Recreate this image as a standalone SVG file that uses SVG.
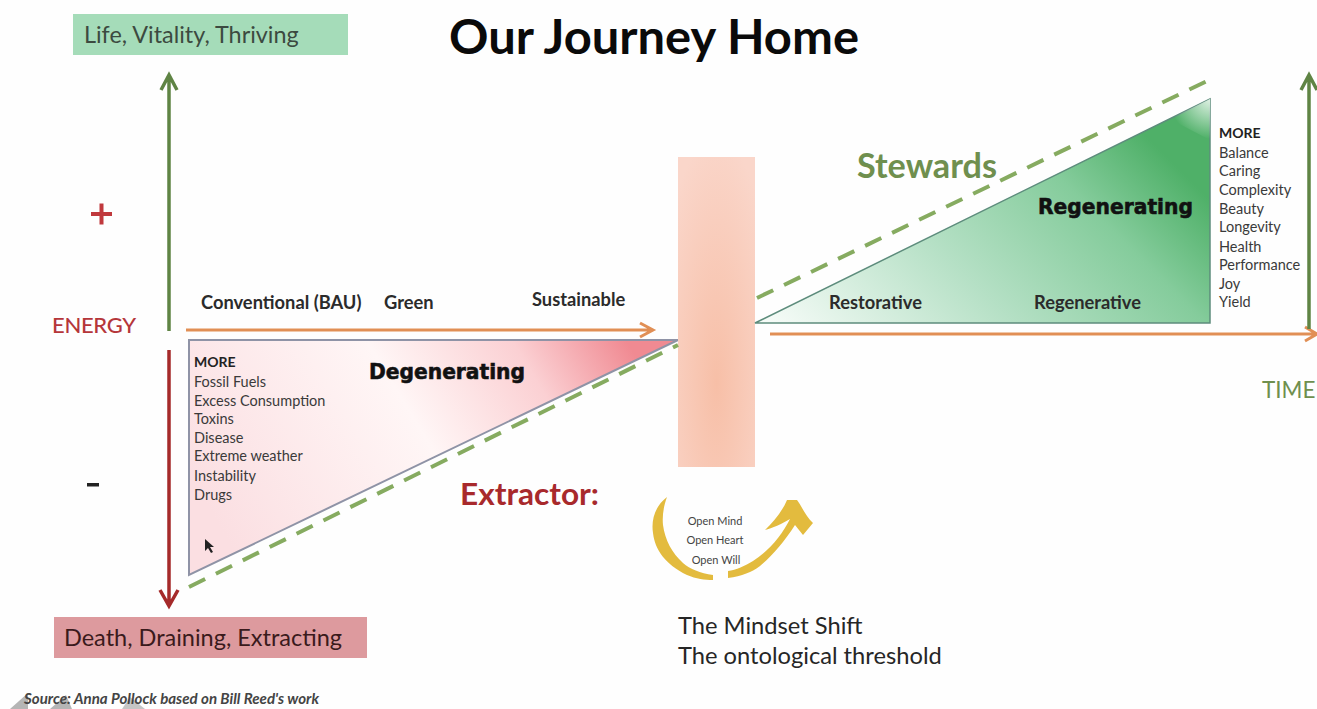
<svg xmlns="http://www.w3.org/2000/svg" width="1317" height="709" viewBox="0 0 1317 709">
<style>
text{font-family:Lato,"Open Sans","Liberation Sans",sans-serif}
.list{font-size:14.5px;fill:#3a3a3a}
.more{font-size:14px;font-weight:700;fill:#222}
.stage{font-size:18.3px;font-weight:700;fill:#2b2b2b}
.fat{font-family:"DejaVu Sans",sans-serif;font-size:21px;font-weight:700;fill:#111;stroke:#111;stroke-width:.6}
.open{font-size:11px;fill:#444}
.big{font-size:23.7px;fill:#262626}
.dash{stroke:#86ab60;stroke-width:4;stroke-dasharray:18 12;fill:none}
.green{stroke:#5f8444;stroke-width:3.5;fill:none}
.red{stroke:#a52a2a;stroke-width:3.5;fill:none}
.orange{stroke:#e18f55;stroke-width:3;fill:none}
</style>
<defs>
<linearGradient id="degen" gradientUnits="userSpaceOnUse" x1="240" y1="560" x2="620" y2="330"><stop offset="0" stop-color="#fbdfe2"/><stop offset=".5" stop-color="#fff6f6"/><stop offset=".78" stop-color="#fbd0d3"/><stop offset="1" stop-color="#f08a92"/></linearGradient>
<linearGradient id="regen" gradientUnits="userSpaceOnUse" x1="850" y1="400" x2="1130" y2="120"><stop offset="0" stop-color="#f5fbf7"/><stop offset=".43" stop-color="#b5e0c5"/><stop offset=".77" stop-color="#85cc9c"/><stop offset="1" stop-color="#4fb068"/></linearGradient>
<radialGradient id="tip" gradientUnits="userSpaceOnUse" cx="1210" cy="99" r="40"><stop offset="0" stop-color="#dff1e4"/><stop offset="1" stop-color="#dff1e4" stop-opacity="0"/></radialGradient>
<radialGradient id="bar" cx=".5" cy=".73" r=".8"><stop offset="0" stop-color="#f7bfa7"/><stop offset="1" stop-color="#fad6ca"/></radialGradient>
</defs>
<rect width="1317" height="709" fill="#fefefe"/>
<text x="654" y="54" text-anchor="middle" font-size="47" font-weight="700" fill="#0a0a0a" textLength="410" lengthAdjust="spacingAndGlyphs">Our Journey Home</text>
<g id="node-life"><rect x="73" y="14" width="275" height="41" fill="#a5dcb9"/><text x="84" y="43" font-size="23.4" fill="#3c4a40">Life, Vitality, Thriving</text></g>
<g id="node-death"><rect x="54" y="617" width="313" height="41" fill="#dd9a9e"/><text x="64" y="646" font-size="23.5" fill="#3a1a1c">Death, Draining, Extracting</text></g>
<g id="node-energy"><text x="52" y="333" font-size="22" font-weight="500" fill="#b5363a" textLength="84">ENERGY</text><rect x="91" y="212" width="21" height="4" fill="#c0393d"/><rect x="99.5" y="203.500" width="4" height="21" fill="#c0393d"/><rect x="87" y="483" width="12" height="3.500" fill="#222"/></g>
<g id="node-degenerating">
<polygon points="189,340 678,340 189,575" fill="url(#degen)" stroke="#8f93a6" stroke-width="2"/>
<text class="more" x="194" y="367">MORE</text>
<text class="list" x="194" y="387">Fossil Fuels</text><text class="list" x="194" y="406">Excess Consumption</text><text class="list" x="194" y="424">Toxins</text><text class="list" x="194" y="443">Disease</text><text class="list" x="194" y="461">Extreme weather</text><text class="list" x="194" y="481">Instability</text><text class="list" x="194" y="500">Drugs</text>
<text class="fat" x="369" y="379" textLength="156" lengthAdjust="spacingAndGlyphs">Degenerating</text>
<text x="460" y="505" font-size="31" font-weight="700" fill="#a8292c" textLength="139" lengthAdjust="spacingAndGlyphs">Extractor:</text>
<polygon points="205,539 205,551 208,548 211,553 213,552 210,547 214,547" fill="#222"/>
</g>
<g id="node-threshold"><rect x="678" y="157" width="77" height="310" fill="url(#bar)"/></g>
<g id="node-regenerating">
<polygon points="755,323 1210,99 1210,323" fill="url(#regen)" stroke="#5d8c7c" stroke-width="1.5"/>
<polygon points="1170,119 1210,99 1210,140" fill="url(#tip)"/>
<text class="stage" x="829" y="309">Restorative</text><text class="stage" x="1034" y="309">Regenerative</text>
<text class="fat" x="1038" y="214" textLength="155" lengthAdjust="spacingAndGlyphs">Regenerating</text>
<text class="more" x="1219" y="138">MORE</text>
<text class="list" x="1219" y="158">Balance</text><text class="list" x="1219" y="176">Caring</text><text class="list" x="1219" y="195">Complexity</text><text class="list" x="1219" y="214">Beauty</text><text class="list" x="1219" y="232">Longevity</text><text class="list" x="1219" y="252">Health</text><text class="list" x="1219" y="270">Performance</text><text class="list" x="1219" y="289">Joy</text><text class="list" x="1219" y="307">Yield</text>
<text x="857" y="178" font-size="34" font-weight="700" fill="#6f8f4e" textLength="140" lengthAdjust="spacingAndGlyphs">Stewards</text>
</g>
<g id="node-stages"><text class="stage" x="201" y="309">Conventional (BAU)</text><text class="stage" x="384" y="309">Green</text><text class="stage" x="532" y="306">Sustainable</text></g>
<g id="node-time"><text x="1262" y="398" font-size="22.500" fill="#6f8f4e">TIME</text></g>
<g id="node-mindset">
<path d="M667,497 C655,506 651,520 653,533 C655,550 665,564 687,575 C696,579 705,580 713,580 L713,575 C700,573 690,569 683,563 C672,553 665,540 663,525 C662,515 664,505 667,497Z" fill="#e3bb3e"/>
<path d="M728,578 C742,576 752,572 760,566 C772,556 784,542 795,525 L803,535 L813,523 C806,517 801,505 797,500 L787,500 C782,512 773,522 765,530 C772,528 782,524 790,519 C782,535 770,550 753,561 C745,566 736,570 728,571Z" fill="#e3bb3e"/>
<text class="open" x="715" y="525" text-anchor="middle">Open Mind</text><text class="open" x="715" y="544" text-anchor="middle">Open Heart</text><text class="open" x="716" y="564" text-anchor="middle">Open Will</text>
<text class="big" x="678" y="634">The Mindset Shift</text><text class="big" x="678" y="664">The ontological threshold</text>
</g>
<g id="node-source"><path d="M10,709 L28,693 L28,709Z M50,709 L66,695 L72,709Z" fill="#b5b5b5"/><path d="M122,709 L145,709 L130,697Z" fill="#c5c5c5"/><text x="24" y="704" font-size="14.500" font-weight="700" font-style="italic" fill="#444" textLength="295" lengthAdjust="spacingAndGlyphs">Source: Anna Pollock based on Bill Reed's work</text></g>
<g id="connectors">
<path class="green" d="M169,331 V76 M161,90 L169,75 L177,90"/>
<path class="red" d="M169,350 V605 M160,590 L169,606 L178,590"/>
<path class="orange" d="M186,330 H652 M640,323 L653,330 L640,337"/>
<path class="orange" d="M770,334 H1316 M1305,327 L1317,334 L1305,341"/>
<path class="green" d="M1309,329 V76 M1301,90 L1309,75 L1317,90"/>
<path class="dash" d="M189,587 L678,345"/>
<path class="dash" d="M757,298 L1207,81"/>
</g>
</svg>
